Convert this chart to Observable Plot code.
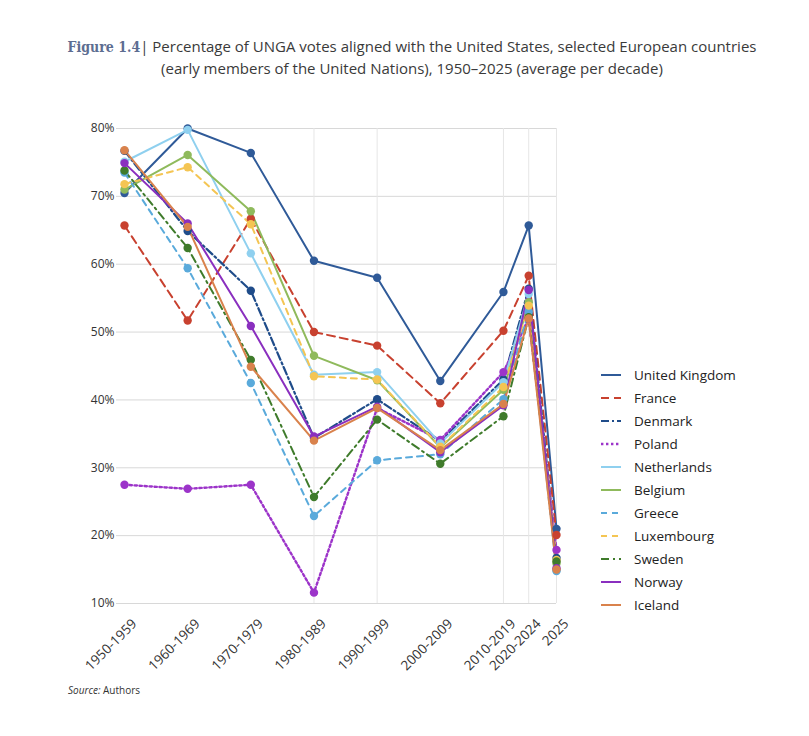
<!DOCTYPE html>
<html><head><meta charset="utf-8">
<script src="https://cdn.jsdelivr.net/npm/d3@7"></script>
<script src="https://cdn.jsdelivr.net/npm/@observablehq/plot@0.6"></script>
<style>
body{margin:0;background:#fff;font-family:"Open Sans",sans-serif;}
#wrap{position:relative;width:809px;height:736px;overflow:hidden;}
#chart{position:absolute;left:0;top:0;}
#title{position:absolute;top:36px;left:0;width:824px;text-align:center;font-size:15px;line-height:21px;color:#3a3a3a;}
#title .fig{font-family:"DejaVu Serif Condensed","DejaVu Serif",serif;font-weight:bold;color:#5d6d91;font-size:14px;}
#legend{position:absolute;left:600px;top:363px;font-size:13.5px;color:#222;}
#legend .item{height:23.1px;display:flex;align-items:center;}
#legend svg{margin-right:12px;}
#source{position:absolute;left:68px;top:683px;font-size:10px;color:#333;}
</style></head><body>
<div id="wrap">
  <div id="chart"></div>
  <div id="title"><span class="fig">Figure 1.4</span>| Percentage of UNGA votes aligned with the United States, selected European countries<br>(early members of the United Nations), 1950–2025 (average per decade)</div>
  <div id="legend"></div>
  <div id="source"><i>Source:</i> Authors</div>
</div>
<script>
const periods = ["1950-1959","1960-1969","1970-1979","1980-1989","1990-1999","2000-2009","2010-2019","2020-2024","2025"];
const countries = ["United Kingdom","France","Denmark","Poland","Netherlands","Belgium","Greece","Luxembourg","Sweden","Norway","Iceland"];
const yTicks = [10,20,30,40,50,60,70,80];

const unitedKingdom = [70.5, 80.0, 76.4, 60.5, 58.0, 42.8, 55.9, 65.7, 21.0];
const france        = [65.7, 51.7, 66.7, 50.0, 48.0, 39.5, 50.2, 58.3, 20.1];
const denmark       = [76.7, 64.9, 56.1, 34.4, 40.1, 33.9, 43.0, 56.4, 16.7];
const poland        = [27.5, 26.9, 27.5, 11.6, 38.8, 34.1, 44.1, 52.0, 17.9];
const netherlands   = [75.1, 79.8, 61.6, 43.7, 44.1, 33.6, 42.6, 55.6, 14.9];
const belgium       = [71.0, 76.1, 67.8, 46.5, 42.9, 33.0, 41.5, 54.4, 15.9];
const greece        = [73.5, 59.4, 42.5, 22.9, 31.1, 32.0, 40.1, 53.0, 14.8];
const luxembourg    = [71.8, 74.3, 65.9, 43.5, 43.0, 33.1, 41.9, 53.9, 16.4];
const sweden        = [73.8, 62.4, 45.9, 25.7, 37.1, 30.6, 37.6, 52.2, 16.2];
const norway        = [74.9, 66.0, 50.9, 34.6, 39.0, 32.3, 39.2, 56.2, 15.2];
const iceland       = [76.8, 65.5, 44.9, 34.0, 38.8, 32.6, 39.4, 52.0, 15.0];

const values = [unitedKingdom, france, denmark, poland, netherlands, belgium, greece, luxembourg, sweden, norway, iceland];
const colors = ["#2f5a98","#c8412f","#1f4c8a","#9c34c9","#8fd0ef","#8fba5c","#5aaadb","#f4c553","#3f7b2b","#8a2fbf","#d9824c"];
const dashes = [null,"8,5","8,3,2,3","2.4,2.6",null,null,"6,5","6,5","8,4,2,4",null,null];
const widths = [2,2,2.2,2.4,2,2,2,2,2,2,2];

// x-scale layout of the period categories (uneven spacing as in the original)
const periodPos = [0,1,2,3,4,5,6,6.4,6.84];
const vGridIdx = [3,4,6,7,8];

const rows = countries.flatMap((c, ci) => periods.map((p, pi) => ({country: c, ci, period: p, pos: periodPos[pi], value: values[ci][pi]})));

const marks = [
  Plot.ruleY(yTicks, {stroke: "#d8d8d8", strokeWidth: 1}),
  Plot.ruleX(vGridIdx.map(i => periodPos[i]), {stroke: "#e6e6e6", strokeWidth: 1}),
  Plot.axisY({ticks: yTicks, tickFormat: d => d + "%", tickSize: 0, tickPadding: 2, fontSize: 12, color: "#333", label: null}),
  Plot.axisX({ticks: periodPos, tickFormat: d => periods[periodPos.indexOf(d)], tickRotate: -45, tickSize: 0, tickPadding: 8, dx: 10, dy: 10, fontSize: 13.5, color: "#333", label: null})
];
countries.forEach((c, ci) => {
  const d = rows.filter(r => r.ci === ci);
  marks.push(Plot.line(d, {x: "pos", y: "value", stroke: colors[ci], strokeWidth: widths[ci], strokeDasharray: dashes[ci] || undefined, strokeLinejoin: "round"}));
});
countries.forEach((c, ci) => {
  const d = rows.filter(r => r.ci === ci);
  marks.push(Plot.dot(d, {x: "pos", y: "value", fill: colors[ci], r: 4.2, stroke: "none"}));
});

const chart = Plot.plot({
  width: 809,
  height: 736,
  marginLeft: 116,
  marginRight: 253,
  marginTop: 128,
  marginBottom: 133,
  insetLeft: 8,
  x: {type: "linear", domain: [0, 6.84], axis: null},
  y: {type: "linear", domain: [10, 80], axis: null},
  style: {fontFamily: "Open Sans, sans-serif", background: "transparent"},
  marks
});
document.getElementById("chart").appendChild(chart);

const legend = document.getElementById("legend");
countries.forEach((c, ci) => {
  const item = document.createElement("div");
  item.className = "item";
  item.innerHTML = `<svg width="22" height="6"><line x1="1" y1="3" x2="21" y2="3" stroke="${colors[ci]}" stroke-width="${widths[ci]}" ${dashes[ci] ? `stroke-dasharray="${dashes[ci]}"` : ""}/></svg><span>${c}</span>`;
  legend.appendChild(item);
});
</script>
</body></html>
